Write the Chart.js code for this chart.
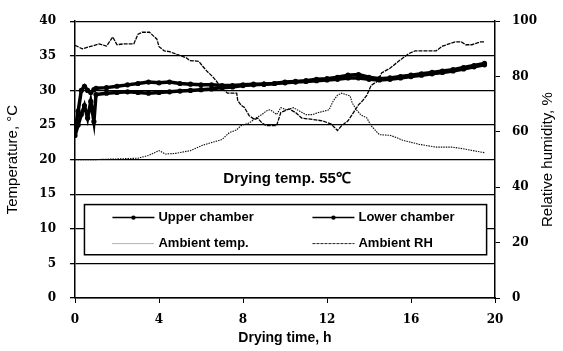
<!DOCTYPE html>
<html lang="en">
<head>
<meta charset="UTF-8">
<script src="https://cdn.jsdelivr.net/npm/chart.js@4.4.1/dist/chart.umd.min.js"></script>
<title>Drying temperature and humidity</title>
<style>
  body { margin: 0; background: #fff; }
  #wrap { width: 563px; height: 351px; }
</style>
</head>
<body>
<div id="wrap"><canvas id="dryChart" width="563" height="351"></canvas></div>
<script>
// chamber readings (h, degC)
var hours = [0, 0.15, 0.3, 0.45, 0.6, 0.75, 0.9, 1.0,
  1.5, 2, 2.5, 3, 3.5, 4, 4.5, 5, 5.5, 6, 6.5, 7, 7.5, 8, 8.5, 9, 9.5, 10,
  10.5, 11, 11.5, 12, 12.5, 13, 13.5, 14, 14.5, 15, 15.5, 16, 16.5, 17, 17.5, 18, 18.5, 19, 19.5];
var upperChamber = [24.2, 27.0, 30.0, 30.6, 30.0, 29.7, 30.1, 30.3,
  30.4, 30.6, 30.8, 31.0, 31.2, 31.1, 31.2, 31.0, 30.9, 30.8, 30.8, 30.7, 30.7, 30.8, 30.9, 30.9, 31.0, 31.2,
  31.3, 31.4, 31.6, 31.7, 31.9, 32.2, 32.3, 31.9, 31.7, 31.8, 32.0, 32.2, 32.4, 32.6, 32.8, 33.0, 33.3, 33.6, 33.9];
var lowerChamber = [23.5, 25.0, 26.5, 27.8, 26.0, 28.4, 25.5, 29.4,
  29.6, 29.7, 29.8, 29.7, 29.6, 29.7, 29.8, 29.9, 30.0, 30.1, 30.2, 30.4, 30.5, 30.7, 30.8, 30.9, 31.0, 31.1,
  31.2, 31.3, 31.4, 31.5, 31.6, 31.8, 31.8, 31.6, 31.5, 31.6, 31.8, 32.0, 32.2, 32.4, 32.6, 32.8, 33.1, 33.4, 33.7];

// ambient temperature (h, degC)
var ambTempHours = [0, 1, 2, 3, 3.5, 4.0, 4.3, 4.8, 5.5, 6.1, 6.55, 7.0, 7.35, 7.7, 7.9, 8.3, 8.6, 8.9, 9.1, 9.26,
  9.4, 9.6, 9.8, 10.1, 10.4, 10.7, 11.0, 11.3, 11.6, 12.1, 12.3, 12.5, 12.7, 13.1, 13.2, 13.4, 13.6, 13.9,
  14.1, 14.4, 14.5, 15.0, 15.3, 15.6, 16.4, 17.2, 18.0, 18.6, 19.3, 19.5];
var ambTemp = [20.0, 20.0, 20.1, 20.2, 20.6, 21.3, 20.8, 20.9, 21.3, 22.1, 22.5, 22.9, 23.9, 24.3, 24.9, 25.3, 26.0, 26.5, 27.0, 27.2,
  27.0, 26.5, 27.5, 27.2, 27.5, 27.0, 26.5, 26.5, 26.8, 27.2, 28.5, 29.3, 29.6, 29.2, 28.2, 27.2, 26.5, 26.0,
  24.9, 23.9, 23.6, 23.5, 23.2, 22.8, 22.2, 21.8, 21.8, 21.5, 21.1, 21.0];

// ambient relative humidity (h, %)
var ambRHHours = [0, 0.35, 0.7, 1.15, 1.5, 1.8, 2.0, 2.3, 2.8, 3.0, 3.2, 3.55, 3.9, 4.0, 4.25, 4.5, 4.85, 5.3, 5.45, 5.9,
  6.07, 6.3, 6.55, 6.74, 6.9, 7.26, 7.7, 7.75, 7.93, 8.07, 8.3, 8.55, 8.7, 8.9, 9.1, 9.6, 9.8, 10.2, 10.5, 10.8,
  11.3, 11.8, 12.2, 12.5, 12.7, 13.0, 13.2, 13.5, 13.7, 13.9, 14.1, 14.4, 14.6, 15.0, 15.45, 15.9, 16.2, 17.2,
  17.5, 18.1, 18.4, 18.6, 18.9, 19.3, 19.5];
var ambRH = [91.3, 90.0, 90.8, 91.8, 91.0, 94.3, 91.5, 91.8, 91.8, 95.3, 96.0, 96.0, 93.5, 90.8, 89.3, 89.0, 88.0, 86.8, 85.8, 85.5,
  83.8, 81.8, 80.0, 78.3, 76.5, 74.0, 74.0, 71.3, 69.5, 68.8, 65.8, 64.5, 65.0, 63.3, 62.3, 62.3, 67.0, 68.3, 67.0, 65.0,
  64.5, 64.0, 62.8, 60.5, 62.3, 64.0, 66.3, 69.8, 71.3, 73.3, 76.8, 78.3, 81.3, 83.0, 85.8, 88.3, 89.3, 89.3,
  91.0, 92.5, 92.5, 91.5, 91.5, 92.5, 92.5];

var timeTicks = [0, 4, 8, 12, 16, 20];

function pairs(xs, ys) {
  var out = [];
  for (var i = 0; i < xs.length; i++) out.push({ x: xs[i], y: ys[i] });
  return out;
}

var tickFont = { family: 'DejaVu Serif', weight: 'bold', size: 12 };

// legend box, note text and right axis title drawn over the plot
var overlay = {
  id: 'overlay',
  afterDatasetsDraw: function (chart) {
    var ctx = chart.ctx, x = chart.scales.x, y = chart.scales.y;
    var l = x.getPixelForValue(0.45), r = x.getPixelForValue(19.6);
    var t = y.getPixelForValue(13.5), b = y.getPixelForValue(6.25);
    ctx.save();
    ctx.fillStyle = '#fff';
    ctx.fillRect(l, t, r - l, b - t);
    ctx.strokeStyle = '#000';
    ctx.lineWidth = 1.5;
    ctx.strokeRect(l, t, r - l, b - t);

    var rows = [
      { x: l + 28, y: t + 13, label: 'Upper chamber', dash: [], w: 1.5, c: '#000', dot: true },
      { x: l + 228, y: t + 13, label: 'Lower chamber', dash: [], w: 1.5, c: '#000', dot: true },
      { x: l + 28, y: t + 39, label: 'Ambient temp.', dash: [1, 1], w: 1, c: '#666', dot: false },
      { x: l + 228, y: t + 39, label: 'Ambient RH', dash: [3, 1], w: 1, c: '#222', dot: false }
    ];
    ctx.font = 'bold 13px "Liberation Sans"';
    ctx.textBaseline = 'middle';
    rows.forEach(function (it) {
      ctx.setLineDash(it.dash);
      ctx.strokeStyle = it.c;
      ctx.lineWidth = it.w;
      ctx.beginPath();
      ctx.moveTo(it.x, it.y);
      ctx.lineTo(it.x + 42, it.y);
      ctx.stroke();
      ctx.setLineDash([]);
      if (it.dot) {
        ctx.fillStyle = '#000';
        ctx.beginPath();
        ctx.arc(it.x + 21, it.y, 2.2, 0, Math.PI * 2);
        ctx.fill();
      }
      ctx.fillStyle = '#000';
      ctx.textAlign = 'left';
      ctx.fillText(it.label, it.x + 46, it.y);
    });

    ctx.font = 'bold 15px "Liberation Sans"';
    ctx.textAlign = 'center';
    ctx.fillText('Drying temp. 55\u2103', x.getPixelForValue(10.1), y.getPixelForValue(17.2));

    ctx.font = '15px "Liberation Sans"';
    ctx.translate(548, (chart.chartArea.top + chart.chartArea.bottom) / 2);
    ctx.rotate(-Math.PI / 2);
    ctx.fillText('Relative humidity, %', 0, 0);
    ctx.restore();
  }
};

var chart = new Chart(document.getElementById('dryChart'), {
  type: 'line',
  data: {
    datasets: [
      {
        label: 'Upper chamber', data: pairs(hours, upperChamber), yAxisID: 'y',
        borderColor: '#000', backgroundColor: '#000', borderWidth: 3.5,
        pointRadius: 2.6, pointBorderWidth: 0, tension: 0
      },
      {
        label: 'Lower chamber', data: pairs(hours, lowerChamber), yAxisID: 'y',
        borderColor: '#000', backgroundColor: '#000', borderWidth: 3.5,
        pointRadius: 2.6, pointBorderWidth: 0, tension: 0
      },
      {
        label: 'Ambient temp.', data: pairs(ambTempHours, ambTemp), yAxisID: 'y',
        borderColor: '#111', borderWidth: 1.1, borderDash: [1.5, 1], pointRadius: 0, tension: 0
      },
      {
        label: 'Ambient RH', data: pairs(ambRHHours, ambRH), yAxisID: 'y1',
        borderColor: '#000', borderWidth: 1.3, borderDash: [4, 1], pointRadius: 0, tension: 0
      }
    ]
  },
  options: {
    responsive: false,
    animation: false,
    layout: { padding: { top: 17 } },
    plugins: { legend: { display: false }, tooltip: { enabled: false } },
    scales: {
      x: {
        type: 'linear', min: 0, max: 20,
        afterBuildTicks: function (s) { s.ticks = timeTicks.map(function (v) { return { value: v }; }); },
        afterFit: function (s) { s.height = 53; },
        grid: { drawOnChartArea: false, color: '#000', tickLength: 5 },
        border: { color: '#000', width: 1.5 },
        ticks: { color: '#000', font: tickFont, padding: 10, maxRotation: 0 },
        title: { display: true, text: 'Drying time, h', color: '#000',
          font: { family: 'Liberation Sans', weight: 'bold', size: 14 }, padding: { top: 0, bottom: 4 } }
      },
      y: {
        position: 'left', min: 0, max: 40,
        afterFit: function (s) { s.width = 75; },
        grid: { color: '#000', lineWidth: 1.3, tickLength: 5 },
        border: { color: '#000', width: 1.5 },
        ticks: { stepSize: 5, color: '#000', font: tickFont, padding: 14 },
        title: { display: true, text: 'Temperature, \u00b0C', color: '#000',
          font: { family: 'Liberation Sans', size: 15 }, padding: { top: 4, bottom: 0 } }
      },
      y1: {
        position: 'right', min: 0, max: 100,
        afterFit: function (s) { s.width = 68; },
        grid: { drawOnChartArea: false, color: '#000', tickLength: 5 },
        border: { color: '#000', width: 1.5 },
        ticks: { stepSize: 20, color: '#000', font: tickFont, padding: 12 }
      }
    }
  },
  plugins: [overlay]
});
</script>
</body>
</html>
